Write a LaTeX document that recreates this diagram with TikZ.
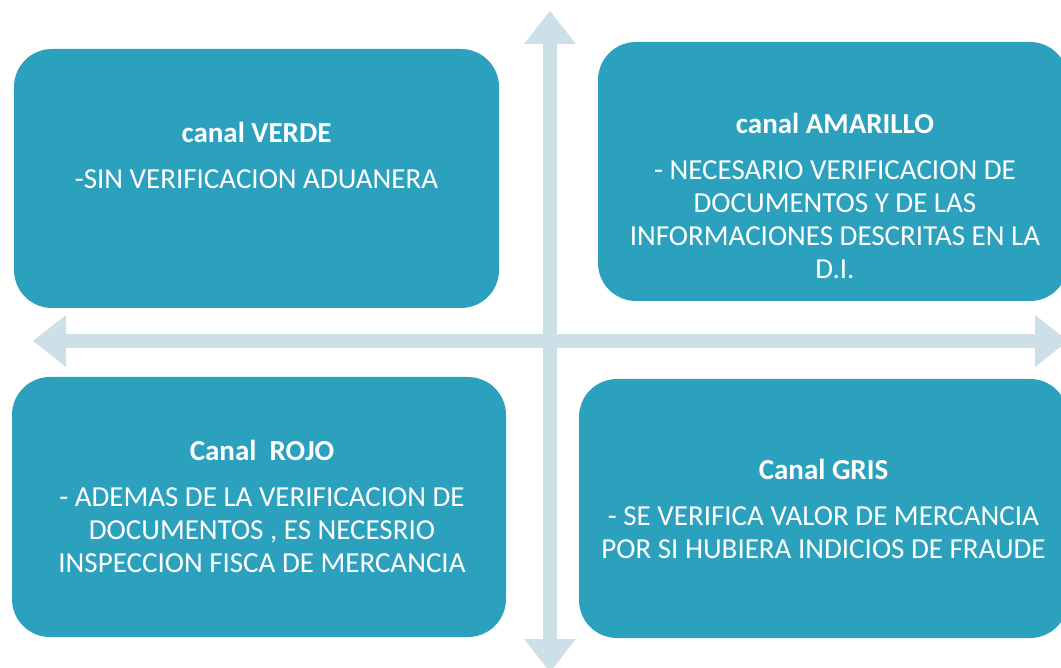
\documentclass[tikz,border=0pt]{standalone}
\usepackage{fontspec}
\setmainfont{Carlito}
\usetikzlibrary{arrows.meta, positioning}
\definecolor{canalteal}{RGB}{44,161,190}
\definecolor{ejeclaro}{RGB}{205,224,232}
\newcommand{\canalTitulo}[1]{{\bfseries #1}\\[13pt]}

\begin{document}
\begin{tikzpicture}[x=1pt, y=-1pt,
		canal/.style={rectangle, rounded corners=38pt, fill=canalteal, minimum width=#1, minimum height=259pt},
		canaltext/.style={text=white, align=center, inner sep=0pt, font=\fontsize{29}{33}\selectfont},
		eje/.style={draw=ejeclaro, line width=13.5pt, {Triangle[length=33pt, width=52pt, line width=0pt]}-{Triangle[length=33pt, width=52pt, line width=0pt]}}]
	\clip (0,0) rectangle (1061,668);
	\useasboundingbox (0,0) rectangle (1061,668);

	\coordinate (arriba) at (550,11);
	\coordinate (abajo) at (550,672);
	\coordinate (izq) at (33,341);
	\coordinate (der) at (1068,341);
	\draw[eje] (abajo) -- (arriba);
	\draw[eje] (izq) -- (der);

	\node[canal=485pt] (verde) at (256.5,178.5) {};
	\node[canal=470pt] (amarillo) at (833,171.5) {};
	\node[canal=494pt, minimum height=260pt] (rojo) at (259,507) {};
	\node[canal=489pt] (gris) at (823.5,508.5) {};

	\node[canaltext, below=73pt of verde.north] (verdetxt)
		{\canalTitulo{canal VERDE}-SIN VERIFICACION ADUANERA};
	\node[canaltext, below=71pt of amarillo.north, xshift=2pt] (amarillotxt)
		{\canalTitulo{canal AMARILLO}- NECESARIO VERIFICACION DE\\DOCUMENTOS Y DE LAS\\INFORMACIONES DESCRITAS EN LA\\D.I.};
	\node[canaltext, below=63pt of rojo.north, xshift=3pt] (rojotxt)
		{\canalTitulo{Canal\ \ ROJO}- ADEMAS DE LA VERIFICACION DE\\DOCUMENTOS , ES NECESRIO\\INSPECCION FISCA DE MERCANCIA};
	\node[canaltext, below=80pt of gris.north] (gristxt)
		{\canalTitulo{Canal GRIS}- SE VERIFICA VALOR DE MERCANCIA\\POR SI HUBIERA INDICIOS DE FRAUDE};
\end{tikzpicture}
\end{document}
